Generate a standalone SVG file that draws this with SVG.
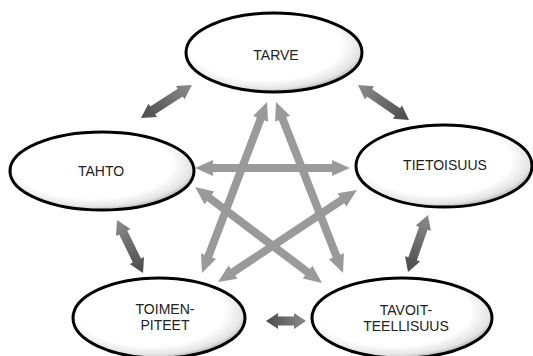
<svg xmlns="http://www.w3.org/2000/svg" width="533" height="356" viewBox="0 0 533 356">
<style>
.node ellipse{fill:url(#shade);stroke:#000;stroke-width:3}
.node text{font-family:"Liberation Sans",Arial,sans-serif;font-size:14px;fill:#222;text-anchor:middle}
.star{fill:#9a9a9a}
.link{fill:url(#dark)}
</style>
<defs>
<radialGradient id="shade" cx="0.45" cy="0.42" r="0.6">
<stop offset="0" stop-color="#fff"/>
<stop offset="0.72" stop-color="#fff"/>
<stop offset="0.9" stop-color="#e4e4e4"/>
<stop offset="1" stop-color="#a8a8a8"/>
</radialGradient>
<linearGradient id="dark" x1="0" y1="0" x2="1" y2="0">
<stop offset="0" stop-color="#4a4a4a"/>
<stop offset="1" stop-color="#8c8c8c"/>
</linearGradient>
</defs>
<rect width="533" height="356" fill="#fff"/>
<g id="connectors">
<path class="star" transform="translate(267,102) rotate(110.8)" d="M0,0 L18,-8 L18,-4 L164.9,-4 L164.9,-8 L182.9,0 L164.9,8 L164.9,4 L18,4 L18,8 Z"/>
<path class="star" transform="translate(276,102) rotate(68.6)" d="M0,0 L18,-8 L18,-4 L165.7,-4 L165.7,-8 L183.7,0 L165.7,8 L165.7,4 L18,4 L18,8 Z"/>
<path class="star" transform="translate(195,168)" d="M0,0 L18,-8 L18,-4 L137,-4 L137,-8 L155,0 L137,8 L137,4 L18,4 L18,8 Z"/>
<path class="star" transform="translate(195,187) rotate(37.1)" d="M0,0 L18,-8 L18,-4 L141.2,-4 L141.2,-8 L159.2,0 L141.2,8 L141.2,4 L18,4 L18,8 Z"/>
<path class="star" transform="translate(357,190) rotate(146.5)" d="M0,0 L18,-8 L18,-4 L148.7,-4 L148.7,-8 L166.7,0 L148.7,8 L148.7,4 L18,4 L18,8 Z"/>
<path class="link" transform="translate(141,118) rotate(-32.9)" d="M0,0 L14,-8 L14,-4.5 L46.7,-4.5 L46.7,-8 L60.7,0 L46.7,8 L46.7,4.5 L14,4.5 L14,8 Z"/>
<path class="link" transform="translate(409,120) rotate(-145.5)" d="M0,0 L14,-8 L14,-4.5 L47.9,-4.5 L47.9,-8 L61.9,0 L47.9,8 L47.9,4.5 L14,4.5 L14,8 Z"/>
<path class="link" transform="translate(143,273) rotate(-116.1)" d="M0,0 L14,-8 L14,-4.5 L45,-4.5 L45,-8 L59,0 L45,8 L45,4.5 L14,4.5 L14,8 Z"/>
<path class="link" transform="translate(408,272) rotate(-70.7)" d="M0,0 L14,-8 L14,-4.5 L46.4,-4.5 L46.4,-8 L60.4,0 L46.4,8 L46.4,4.5 L14,4.5 L14,8 Z"/>
<path class="link" transform="translate(266,321)" d="M0,0 L12,-8 L12,-4.5 L28,-4.5 L28,-8 L40,0 L28,8 L28,4.5 L12,4.5 L12,8 Z"/>
</g>
<g id="tarve" class="node">
<ellipse cx="274" cy="52.5" rx="88" ry="39.5"/>
<text x="276" y="60">TARVE</text>
</g>
<g id="tahto" class="node">
<ellipse cx="102" cy="171" rx="92" ry="39"/>
<text x="101" y="176">TAHTO</text>
</g>
<g id="tietoisuus" class="node">
<ellipse cx="444" cy="166" rx="88" ry="41"/>
<text x="445" y="170">TIETOISUUS</text>
</g>
<g id="toimenpiteet" class="node">
<ellipse cx="159" cy="318" rx="86" ry="40"/>
<text x="165" y="314">TOIMEN-</text>
<text x="165" y="330">PITEET</text>
</g>
<g id="tavoitteellisuus" class="node">
<ellipse cx="402" cy="318" rx="90" ry="40"/>
<text x="406" y="315">TAVOIT-</text>
<text x="406" y="331">TEELLISUUS</text>
</g>
</svg>
